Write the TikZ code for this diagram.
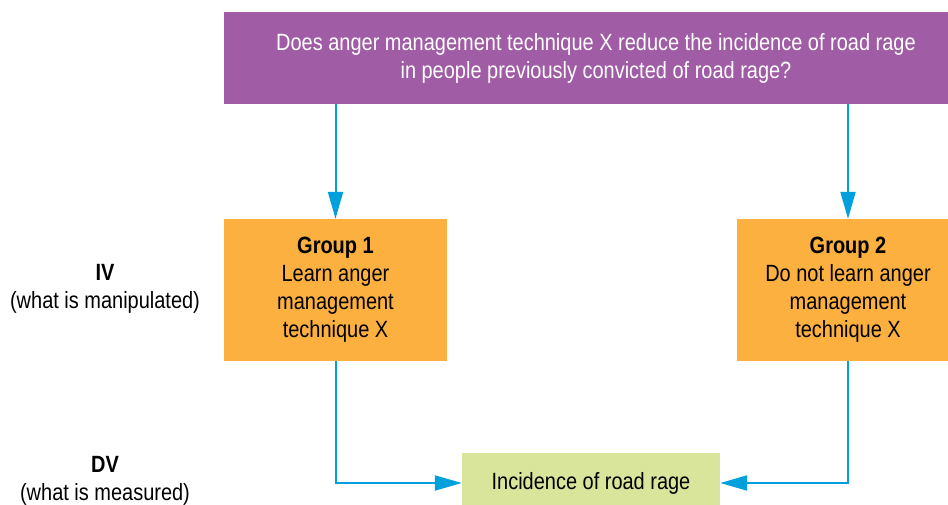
\documentclass[tikz,border=0pt]{standalone}
\usepackage{fontspec}
\setmainfont[FakeStretch=0.85]{Liberation Sans}
\usepackage{tikz}
\usetikzlibrary{positioning, arrows.meta}
\definecolor{qpurple}{RGB}{160, 92, 164}
\definecolor{grouporange}{RGB}{251, 176, 64}
\definecolor{dvgreen}{RGB}{217, 229, 154}
\definecolor{flowblue}{RGB}{0, 160, 220}

\begin{document}
\begin{tikzpicture}[x=1pt, y=-1pt,
  every node/.style={font=\fontsize{23.5}{28}\selectfont, align=center, inner sep=0pt},
  box/.style={fill=grouporange, minimum width=223pt, minimum height=142pt},
  flow/.style={flowblue, line width=2pt, -{Triangle[length=27pt, width=15pt]}}]
\clip (0,0) rectangle (948,505);
% question
\node[fill=qpurple, text=white, minimum width=744pt, minimum height=92pt] (q) at (596,58)
  {Does anger management technique X reduce the incidence of road rage\\in people previously convicted of road rage?};
% groups
\node[box] (g1) at (335.5,290)
  {\textbf{Group 1}\\Learn anger\\management\\technique X};
\node[box] (g2) at (848,290)
  {\textbf{Group 2}\\Do not learn anger\\management\\technique X};
% outcome
\node[fill=dvgreen, minimum width=258pt, minimum height=60pt] (out) at (591,483) {Incidence of road rage};
% side labels
\node (iv) at (105,289) {\textbf{IV}\\(what is manipulated)};
\node (dv) at (105,481) {\textbf{DV}\\(what is measured)};
% connectors
\draw[flow] (q.south -| g1.north) -- (g1.north);
\draw[flow] (q.south -| g2.north) -- (g2.north);
\draw[flow] (g1.south) |- (out.west);
\draw[flow] (g2.south) |- (out.east);
\end{tikzpicture}
\end{document}
